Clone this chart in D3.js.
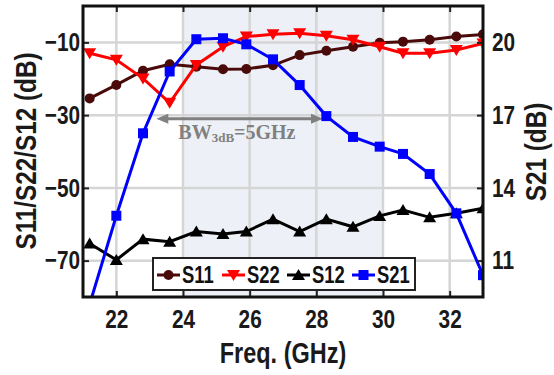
<!DOCTYPE html>
<meta charset="utf-8">
<html>
<head>
<title>S-parameters</title>
<script src="https://cdn.jsdelivr.net/npm/d3@7"></script>
<style>
    body{ margin:0; background:#fff; }
    text{ font-family: "Liberation Sans", Arial, sans-serif; font-weight: bold; }
</style>
</head>
<body>
<script>
// frequency points (GHz)
var freq = [21.2, 22.0, 22.8, 23.6, 24.4, 25.2, 25.9, 26.7, 27.5, 28.3, 29.1, 29.9, 30.6, 31.4, 32.2, 33.0]
// left axis series (dB)
var s11 = [-25.4, -21.7, -17.8, -16.0, -16.7, -17.4, -17.3, -16.3, -13.5, -12.3, -11.2, -10.1, -9.8, -9.3, -8.4, -7.8]
var s22 = [-13.0, -14.8, -19.9, -26.6, -16.2, -11.2, -8.4, -7.8, -7.5, -8.2, -9.3, -11.2, -13.0, -13.0, -12.1, -10.3]
var s12 = [-65.3, -69.8, -64.1, -64.8, -62.0, -62.7, -62.0, -58.6, -62.0, -58.6, -60.7, -57.7, -56.1, -58.1, -57.0, -55.6]
// right axis series (dB)
var s21 = [9.2, 12.85, 16.25, 18.8, 20.13, 20.17, 19.92, 19.3, 18.24, 16.96, 16.1, 15.7, 15.4, 14.57, 12.95, 10.4]

var xTicks = [22, 24, 26, 28, 30, 32]
var yLeftTicks = [-70, -50, -30, -10]
var yRightTicks = [11, 14, 17, 20]
var band = [24, 30]
var bwArrow = [23.2, 28.2]

var margin = {top: 6, left: 83},
    width = 400,
    height = 291,
    squeeze = 0.8   // no narrow font installed, so squeeze text horizontally

var svg = d3.select("body").append("svg")
    .attr("width", 554)
    .attr("height", 375)

var g = svg.append("g").attr("transform", "translate(" + margin.left + "," + margin.top + ")")

var x = d3.scaleLinear().domain([21, 33]).range([0, width])
var yL = d3.scaleLinear().domain([-80, 0]).range([height, 0])
var yR = d3.scaleLinear().domain([9.5, 21.5]).range([height, 0])

svg.append("defs").append("clipPath").attr("id", "plot")
    .append("rect").attr("width", width).attr("height", height)

// shaded band
g.append("rect")
    .attr("x", x(band[0]))
    .attr("width", x(band[1]) - x(band[0]))
    .attr("y", 0).attr("height", height)
    .attr("fill", "#edf0f6")

// grid
g.selectAll("line.gx").data(xTicks).enter().append("line")
    .attr("class", "gx")
    .attr("x1", d => x(d)).attr("x2", d => x(d))
    .attr("y1", 0).attr("y2", height)
    .attr("stroke", "#d5d5d5").attr("stroke-width", 2.5)
g.selectAll("line.gy").data(yLeftTicks).enter().append("line")
    .attr("class", "gy")
    .attr("y1", d => yL(d)).attr("y2", d => yL(d))
    .attr("x1", 0).attr("x2", width)
    .attr("stroke", "#d5d5d5").attr("stroke-width", 2.5)

// BW annotation
var ay = yL(-31)
g.append("line")
    .attr("x1", x(bwArrow[0]) + 8).attr("x2", x(bwArrow[1]) - 8)
    .attr("y1", ay).attr("y2", ay)
    .attr("stroke", "#808080").attr("stroke-width", 3)
g.append("path")
    .attr("d", "M" + x(bwArrow[0]) + "," + ay + "l12,-5l0,10z")
    .attr("fill", "#808080")
g.append("path")
    .attr("d", "M" + x(bwArrow[1]) + "," + ay + "l-12,-5l0,10z")
    .attr("fill", "#808080")
var bw = g.append("text")
    .attr("x", x(bwArrow[0]) + 22).attr("y", ay + 20)
    .style("font-family", "'Liberation Serif', 'Times New Roman', serif")
    .style("font-size", "20px")
    .attr("fill", "#808080")
bw.append("tspan").text("BW")
bw.append("tspan").attr("dy", 3).style("font-size", "13px").text("3dB")
bw.append("tspan").attr("dy", -3).text("=5GHz")

var triDown = "M-6.5,-5L6.5,-5L0,6Z"
var triUp = "M-6.5,5L6.5,5L0,-6Z"
var square = "M-5,-5L5,-5L5,5L-5,5Z"

var series = [
    {name: "S11", vals: s11, y: yL, color: "#4a0a0a", marker: "circle"},
    {name: "S22", vals: s22, y: yL, color: "#ff0000", marker: triDown},
    {name: "S12", vals: s12, y: yL, color: "#000000", marker: triUp},
    {name: "S21", vals: s21, y: yR, color: "#0000ff", marker: square}
]

var plot = g.append("g").attr("clip-path", "url(#plot)")

function drawMarker(sel, s){
    if (s.marker == "circle"){
        sel.append("circle").attr("r", 5).attr("fill", s.color)
    } else {
        sel.append("path").attr("d", s.marker).attr("fill", s.color)
    }
}

series.forEach(s => {
    var line = d3.line().x((d, i) => x(freq[i])).y(d => s.y(d))
    plot.append("path")
        .datum(s.vals)
        .attr("d", line)
        .attr("fill", "none")
        .attr("stroke", s.color)
        .attr("stroke-width", 3)
    s.vals.forEach((v, i) => {
        var m = plot.append("g").attr("transform", "translate(" + x(freq[i]) + "," + s.y(v) + ")")
        drawMarker(m, s)
    })
})

// axes
g.append("g").attr("transform", "translate(0," + height + ")")
    .call(d3.axisBottom(x).tickValues(xTicks).tickSize(-6).tickPadding(13))
g.append("g")
    .call(d3.axisTop(x).tickValues(xTicks).tickSize(-6).tickFormat(""))
g.append("g")
    .call(d3.axisLeft(yL).tickValues(yLeftTicks).tickSize(-6).tickPadding(3 / squeeze))
g.append("g").attr("transform", "translate(" + width + ",0)")
    .call(d3.axisRight(yR).tickValues(yRightTicks).tickSize(-6).tickPadding(9 / squeeze))

g.selectAll(".domain").remove()
g.selectAll(".tick line").attr("stroke", "#222").attr("stroke-width", 2)
g.selectAll(".tick text")
    .style("font-size", "26px")
    .attr("fill", "#1a1a1a")
    .attr("transform", "scale(" + squeeze + ",1)")

g.append("rect")
    .attr("width", width).attr("height", height)
    .attr("fill", "none").attr("stroke", "#111").attr("stroke-width", 3)

// legend
var legend = svg.append("g").attr("transform", "translate(153,258)")
legend.append("rect")
    .attr("width", 262).attr("height", 32)
    .attr("fill", "#fff").attr("stroke", "#222").attr("stroke-width", 2)
var legX = [4, 69, 134, 199]
series.forEach((s, i) => {
    var item = legend.append("g").attr("transform", "translate(" + legX[i] + ",17)")
    item.append("line").attr("x1", 0).attr("x2", 23)
        .attr("stroke", s.color).attr("stroke-width", 3)
    drawMarker(item.append("g").attr("transform", "translate(11.5,0)"), s)
    item.append("text")
        .attr("transform", "translate(25,8) scale(" + squeeze + ",1)")
        .style("font-size", "23px")
        .attr("fill", "#111")
        .text(s.name)
})

// axis titles
svg.append("text")
    .attr("transform", "translate(36,151) rotate(-90) scale(0.81,1)")
    .attr("text-anchor", "middle")
    .style("font-size", "30px")
    .attr("fill", "#1a1a1a")
    .text("S11/S22/S12 (dB)")
svg.append("text")
    .attr("transform", "translate(546,152) rotate(-90) scale(0.81,1)")
    .attr("text-anchor", "middle")
    .style("font-size", "30px")
    .attr("fill", "#1a1a1a")
    .text("S21 (dB)")
svg.append("text")
    .attr("transform", "translate(283,363) scale(0.81,1)")
    .attr("text-anchor", "middle")
    .style("font-size", "29px")
    .attr("fill", "#1a1a1a")
    .text("Freq. (GHz)")
</script>
</body>
</html>
